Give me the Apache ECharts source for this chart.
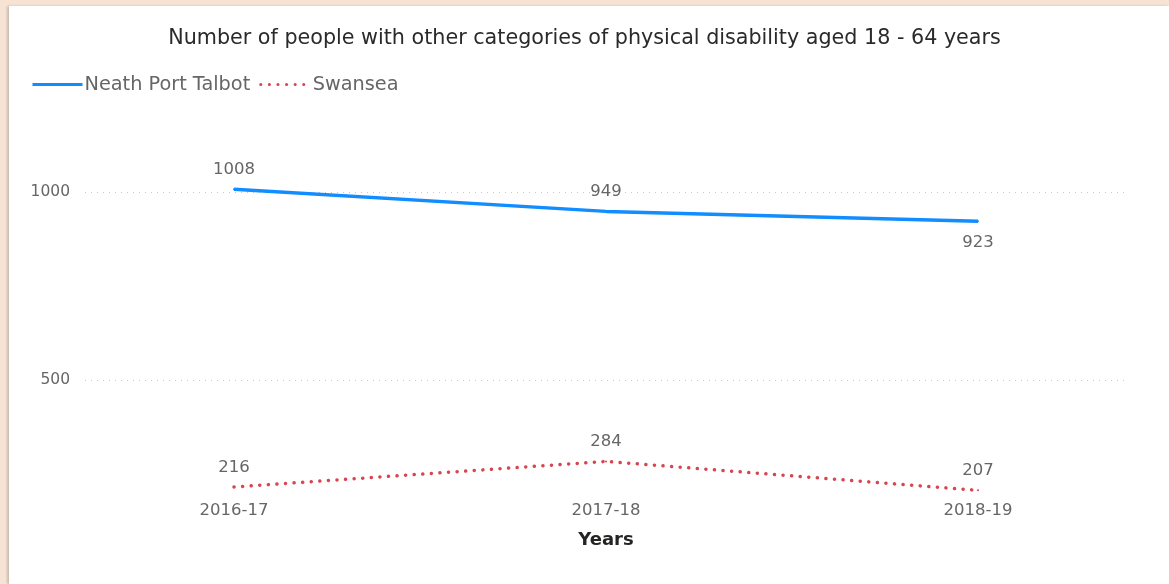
<!DOCTYPE html>
<html>
<head>
<meta charset="utf-8">
<title>Physical disability 18 - 64</title>
<script src="https://cdn.jsdelivr.net/npm/echarts@6/dist/echarts.min.js"></script>
<style>
  html, body { margin: 0; padding: 0; width: 1169px; height: 584px; overflow: hidden; background: #f7e3d3; }
  #panel { position: absolute; left: 9px; top: 6px; right: 0; bottom: 0; background: #ffffff; box-shadow: -2px 0 2px rgba(120,120,120,0.35); }
  #chart { position: absolute; left: 0; top: 0; width: 1169px; height: 584px; }
</style>
</head>
<body>
<div id="panel"></div>
<div id="chart"></div>
<script>
// Years on the category axis
const years = ['2016-17', '2017-18', '2018-19'];
// Number of people per authority
const neathPortTalbot = [1008, 949, 923];
const swansea = [216, 284, 207];
// Gridline values on the value axis
const gridTicks = [500, 1000];

const labelGrey = '#666666';
const fontFamily = '"DejaVu Sans", "Noto Sans", sans-serif';

const chart = echarts.init(document.getElementById('chart'), null, { renderer: 'canvas' });

chart.setOption({
  animation: false,
  textStyle: { fontFamily: fontFamily },
  title: {
    text: 'Number of people with other categories of physical disability aged 18 - 64 years',
    left: 'center',
    top: 23,
    textStyle: { fontSize: 20.7, fontWeight: 'normal', color: '#2a2a2a', fontFamily: fontFamily }
  },
  legend: {
    left: 26,
    top: 70,
    itemWidth: 50,
    itemHeight: 14,
    itemGap: 9,
    itemStyle: { opacity: 0 },
    lineStyle: { width: 3 },
    textStyle: { fontSize: 19.3, color: labelGrey, fontFamily: fontFamily, padding: [0, 0, 0, -3] },
    data: ['Neath Port Talbot', 'Swansea']
  },
  grid: [
    // plot area for the series
    { left: 234, right: 191, top: 117, bottom: 91, containLabel: false },
    // wider area carrying the value gridlines and their labels
    { left: 85, right: 44, top: 192, bottom: 204, containLabel: false }
  ],
  xAxis: [
    {
      type: 'category',
      gridIndex: 0,
      data: years,
      boundaryGap: false,
      axisLine: { show: false },
      axisTick: { show: false },
      axisLabel: { color: labelGrey, fontSize: 16.5, margin: 9 },
      name: 'Years',
      nameLocation: 'middle',
      nameGap: 38,
      nameTextStyle: { fontSize: 18, fontWeight: 'bold', color: '#252423' }
    },
    { type: 'value', gridIndex: 1, show: false, min: 0, max: 1 }
  ],
  yAxis: [
    { type: 'value', gridIndex: 0, min: 200, max: 1200, show: false },
    {
      type: 'value',
      gridIndex: 1,
      min: gridTicks[0],
      max: gridTicks[gridTicks.length - 1],
      interval: gridTicks[1] - gridTicks[0],
      axisLine: { show: false },
      axisTick: { show: false },
      axisLabel: { color: labelGrey, fontSize: 15.5, margin: 15, formatter: v => String(v) },
      splitLine: { show: true, lineStyle: { color: '#c8c8c8', width: 1, type: [1, 5] } }
    }
  ],
  series: [
    {
      name: 'Neath Port Talbot',
      type: 'line',
      xAxisIndex: 0,
      yAxisIndex: 0,
      clip: false,
      symbol: 'circle',
      symbolSize: 2,
      showSymbol: true,
      itemStyle: { color: '#118dff' },
      lineStyle: { color: '#118dff', width: 3.5 },
      label: { show: true, position: 'top', distance: 10, color: labelGrey, fontSize: 16.5 },
      data: neathPortTalbot.map((v, i) => i === neathPortTalbot.length - 1
        ? { value: v, label: { position: 'bottom', distance: 12 } }
        : v)
    },
    {
      name: 'Swansea',
      type: 'line',
      xAxisIndex: 0,
      yAxisIndex: 0,
      clip: false,
      symbol: 'circle',
      symbolSize: 2,
      showSymbol: true,
      itemStyle: { color: '#d64550' },
      lineStyle: { color: '#d64550', width: 3.5, type: [0.1, 8.5], cap: 'round' },
      label: { show: true, position: 'top', distance: 10, color: labelGrey, fontSize: 16.5 },
      data: swansea
    }
  ]
});
</script>
</body>
</html>
